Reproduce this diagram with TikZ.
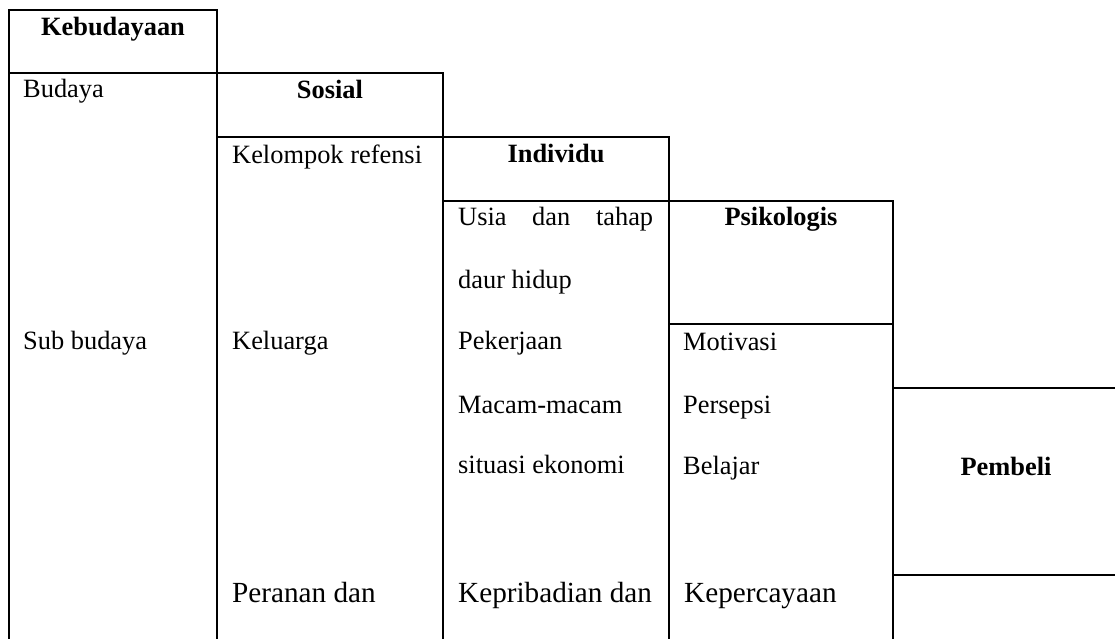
\documentclass[tikz,border=0pt]{standalone}
\usepackage{fontspec}
\setmainfont{Liberation Serif}
\begin{document}
\begin{tikzpicture}[x=1pt,y=-1pt,
  rule/.style={line width=2.6pt, line cap=rect},
  txt/.style={anchor=base west, inner sep=0pt, font=\fontsize{26.4}{30}\selectfont},
  big/.style={anchor=base west, inner sep=0pt, font=\fontsize{29.2}{33}\selectfont},
  head/.style={anchor=base, inner sep=0pt, font=\fontsize{26.4}{30}\selectfont\bfseries}]
\useasboundingbox (0,0) rectangle (1115,639);
% grid lines
\draw[rule] (9,639) -- (9,10) -- (217,10) -- (217,639);
\draw[rule] (9,73) -- (443,73) -- (443,639);
\draw[rule] (217,137) -- (669,137) -- (669,639);
\draw[rule] (443,201) -- (893,201) -- (893,639);
\draw[rule] (669,324) -- (893,324);
\draw[rule] (893,388) -- (1115,388);
\draw[rule] (893,575) -- (1115,575);
% headings
\node[head] (keb) at (113,36) {Kebudayaan};
\node[head] (sos) at (330,99) {Sosial};
\node[head] (ind) at (556,163) {Individu};
\node[head] (psi) at (781,225) {Psikologis};
\node[head] (pem) at (1006,475) {Pembeli};
% column 1
\node[txt] (bud) at (23,98) {Budaya};
\node[txt] (sub) at (23,349) {Sub budaya};
% column 2
\node[txt] (kel) at (232,164) {Kelompok refensi};
\node[txt] (klg) at (232,349) {Keluarga};
\node[big] (per) at (232,602) {Peranan dan};
% column 3
\node[txt] (usi) at (458,225) {\makebox[195pt][s]{Usia dan tahap}};
\node[txt] (dau) at (458,288) {daur hidup};
\node[txt] (pek) at (458,349) {Pekerjaan};
\node[txt] (mac) at (458,413) {Macam-macam};
\node[txt] (sit) at (458,473) {situasi ekonomi};
\node[big] (kep) at (458,602) {Kepribadian dan};
% column 4
\node[txt] (mot) at (683,350) {Motivasi};
\node[txt] (prs) at (683,413) {Persepsi};
\node[txt] (bel) at (683,474) {Belajar};
\node[big] (kpc) at (684,602) {Kepercayaan};
\end{tikzpicture}
\end{document}
